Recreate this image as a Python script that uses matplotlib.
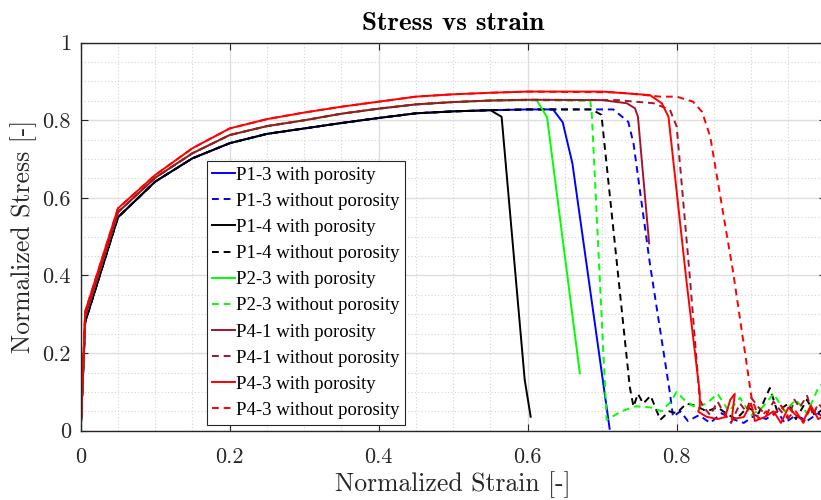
import matplotlib
matplotlib.use('Agg')
import matplotlib.pyplot as plt
from matplotlib.ticker import MultipleLocator

plt.rcParams['font.family'] = 'serif'
plt.rcParams['font.serif'] = ['cmr10', 'DejaVu Serif']
plt.rcParams['mathtext.fontset'] = 'cm'
plt.rcParams['axes.formatter.use_mathtext'] = True

# hardening part shared by the specimens
strain_base = [0, 0.006, 0.05, 0.1, 0.15, 0.2, 0.25, 0.3, 0.35, 0.4, 0.45, 0.5, 0.55]
stress_low = [0, 0.28, 0.55, 0.642, 0.702, 0.741, 0.765, 0.779, 0.793, 0.806, 0.818, 0.823, 0.826]
stress_mid = [0, 0.295, 0.563, 0.652, 0.715, 0.762, 0.785, 0.80, 0.817, 0.83, 0.841, 0.847, 0.851]
stress_high = [0, 0.307, 0.573, 0.659, 0.728, 0.779, 0.803, 0.82, 0.835, 0.848, 0.861, 0.867, 0.871]

# softening / failure part of each run
p13_with_x = [0.6, 0.634, 0.647, 0.660, 0.710]
p13_with_y = [0.828, 0.828, 0.795, 0.689, 0.005]
p13_without_x = [0.6, 0.715, 0.735, 0.742, 0.764, 0.791, 0.795, 0.805, 0.815, 0.83, 0.845, 0.86,
                 0.875, 0.89, 0.905, 0.92, 0.935, 0.945, 0.96, 0.975, 0.99, 1.0]
p13_without_y = [0.828, 0.828, 0.796, 0.741, 0.431, 0.096, 0.036, 0.05, 0.025, 0.04, 0.02, 0.045,
                 0.03, 0.02, 0.04, 0.03, 0.05, 0.02, 0.04, 0.025, 0.045, 0.03]
p14_with_x = [0.565, 0.596, 0.604]
p14_with_y = [0.809, 0.131, 0.036]
p14_without_x = [0.6, 0.686, 0.699, 0.737, 0.742, 0.748, 0.755, 0.765, 0.778, 0.79, 0.8, 0.813,
                 0.825, 0.84, 0.855, 0.87, 0.88, 0.895, 0.91, 0.925, 0.935, 0.95, 0.96, 0.975,
                 0.985, 1.0]
p14_without_y = [0.828, 0.828, 0.814, 0.113, 0.062, 0.095, 0.07, 0.09, 0.028, 0.05, 0.045, 0.07,
                 0.065, 0.05, 0.06, 0.04, 0.03, 0.06, 0.045, 0.11, 0.05, 0.07, 0.03, 0.08, 0.04,
                 0.06]
p23_with_x = [0.6, 0.612, 0.626, 0.670]
p23_with_y = [0.852, 0.852, 0.808, 0.148]
p23_without_x = [0.6, 0.684, 0.686, 0.706, 0.726, 0.745, 0.765, 0.78, 0.792, 0.80, 0.81, 0.825,
                 0.84, 0.855, 0.87, 0.885, 0.9, 0.915, 0.93, 0.945, 0.96, 0.975, 0.99, 1.0]
p23_without_y = [0.852, 0.85, 0.818, 0.028, 0.05, 0.063, 0.06, 0.05, 0.075, 0.10, 0.08, 0.06,
                 0.07, 0.095, 0.05, 0.085, 0.04, 0.06, 0.095, 0.05, 0.08, 0.045, 0.11, 0.13]
p41_with_x = [0.6, 0.70, 0.733, 0.744, 0.748, 0.763]
p41_with_y = [0.853, 0.852, 0.844, 0.831, 0.809, 0.483]
p41_without_x = [0.6, 0.72, 0.769, 0.791, 0.80, 0.818, 0.831, 0.836, 0.845, 0.855, 0.862, 0.873,
                 0.885, 0.893, 0.9, 0.91, 0.92, 0.93, 0.94, 0.95, 0.958, 0.965, 0.975, 0.983,
                 0.99, 1.0]
p41_without_y = [0.853, 0.852, 0.844, 0.827, 0.784, 0.388, 0.079, 0.062, 0.04, 0.075, 0.05, 0.02,
                 0.07, 0.05, 0.085, 0.06, 0.04, 0.075, 0.05, 0.03, 0.08, 0.06, 0.09, 0.04, 0.07,
                 0.05]
p43_with_x = [0.6, 0.70, 0.764, 0.780, 0.789, 0.813, 0.831, 0.831, 0.829, 0.84, 0.855, 0.865,
              0.872, 0.878, 0.874, 0.89, 0.9, 0.905, 0.918, 0.93, 0.94, 0.95, 0.96, 0.97, 0.98,
              0.99, 1.0]
p43_with_y = [0.874, 0.874, 0.865, 0.844, 0.809, 0.388, 0.097, 0.062, 0.049, 0.036, 0.03, 0.035,
              0.08, 0.095, 0.03, 0.035, 0.07, 0.025, 0.035, 0.05, 0.02, 0.06, 0.04, 0.025, 0.065,
              0.03, 0.04]
p43_without_x = [0.6, 0.72, 0.778, 0.80, 0.822, 0.834, 0.845, 0.876, 0.901, 0.905, 0.91, 0.92,
                 0.93, 0.94, 0.95, 0.96, 0.97, 0.98, 0.99, 1.0]
p43_without_y = [0.874, 0.872, 0.861, 0.861, 0.848, 0.822, 0.758, 0.406, 0.079, 0.062, 0.03, 0.05,
                 0.04, 0.065, 0.035, 0.05, 0.02, 0.06, 0.035, 0.05]

x_ticks = [0, 0.2, 0.4, 0.6, 0.8]
x_tick_labels = ['0', '0.2', '0.4', '0.6', '0.8']
y_ticks = [0, 0.2, 0.4, 0.6, 0.8, 1.0]
y_tick_labels = ['0', '0.2', '0.4', '0.6', '0.8', '1']

brown = (0.635, 0.078, 0.184)
runs = [
    ('P1-3 with porosity', stress_low, p13_with_x, p13_with_y, 'b', '-'),
    ('P1-3 without porosity', stress_low, p13_without_x, p13_without_y, 'b', '--'),
    ('P1-4 with porosity', stress_low, p14_with_x, p14_with_y, 'k', '-'),
    ('P1-4 without porosity', stress_low, p14_without_x, p14_without_y, 'k', '--'),
    ('P2-3 with porosity', stress_mid, p23_with_x, p23_with_y, (0, 1, 0), '-'),
    ('P2-3 without porosity', stress_mid, p23_without_x, p23_without_y, (0, 1, 0), '--'),
    ('P4-1 with porosity', stress_mid, p41_with_x, p41_with_y, brown, '-'),
    ('P4-1 without porosity', stress_mid, p41_without_x, p41_without_y, brown, '--'),
    ('P4-3 with porosity', stress_high, p43_with_x, p43_with_y, 'r', '-'),
    ('P4-3 without porosity', stress_high, p43_without_x, p43_without_y, 'r', '--'),
]

fig = plt.figure(figsize=(8.21, 5.0), dpi=100)
ax = fig.add_axes([0.0983, 0.1386, 0.9074, 0.776])

for label, base, tx, ty, c, ls in runs:
    x = strain_base + tx
    y = base + ty
    line, = ax.plot(x, y, color=c, linestyle=ls, lw=1.4, label=label)
    if ls == '--':
        line.set_dashes((3.5, 2.5))

ax.set_xlim(0, 1)
ax.set_ylim(0, 1)
ax.set_xticks(x_ticks)
ax.set_xticklabels(x_tick_labels)
ax.set_yticks(y_ticks)
ax.set_yticklabels(y_tick_labels)
ax.xaxis.set_minor_locator(MultipleLocator(0.05))
ax.yaxis.set_minor_locator(MultipleLocator(0.05))
ax.grid(which='major', color='#dedede', lw=1.0, ls='-')
ax.grid(which='minor', color='#d4d4d4', lw=0.8, ls=(0, (1, 2)))
ax.set_axisbelow(True)
ax.tick_params(which='major', direction='in', length=5, width=0.8, top=True, right=True,
               labelsize=16, colors='#262626', pad=7)
ax.tick_params(axis='x', which='major', pad=12)
ax.tick_params(which='minor', length=0)
for s in ax.spines.values():
    s.set_color('#262626')
    s.set_linewidth(1.0)

ax.set_xlabel('Normalized Strain [-]', fontsize=18.5, color='#262626', labelpad=3)
ax.set_ylabel('Normalized Stress [-]', fontsize=18.5, color='#262626', labelpad=4)
ax.set_title('Stress vs strain', fontsize=19.5, family=['cmb10', 'DejaVu Serif'], pad=9)

leg = ax.legend(loc='upper left', bbox_to_anchor=(0.169, 0.695), fancybox=False,
                framealpha=1, edgecolor='#262626',
                prop={'family': 'Liberation Serif', 'size': 13.5},
                handlelength=1.2, handletextpad=0.05, labelspacing=0.48, borderpad=0.3,
                borderaxespad=0)
leg.get_frame().set_linewidth(0.8)

plt.savefig('out.png', dpi=100)
